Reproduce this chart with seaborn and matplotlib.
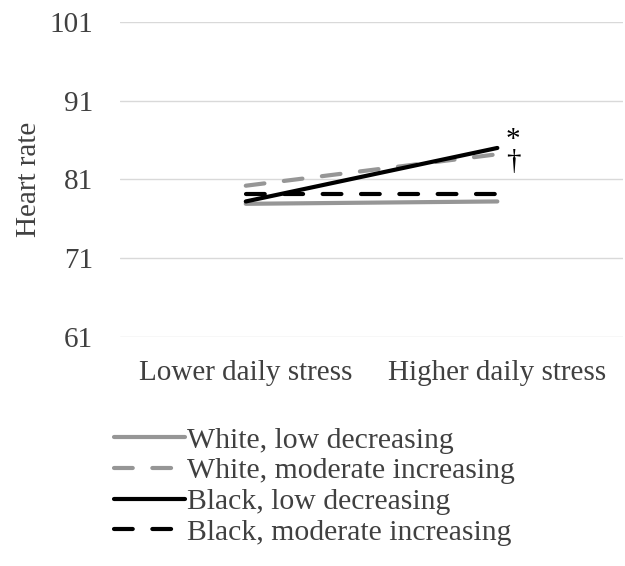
import matplotlib
matplotlib.use("Agg")
import matplotlib.pyplot as plt
import seaborn as sns
import pandas as pd

categories = ["Lower daily stress", "Higher daily stress"]
series_names = ["White, low decreasing", "White, moderate increasing",
                "Black, low decreasing", "Black, moderate increasing"]
white_low_dec = [77.9, 78.2]
white_mod_inc = [80.2, 84.2]
black_low_dec = [78.2, 85.0]
black_mod_inc = [79.1, 79.1]
y_ticks = [61, 71, 81, 91, 101]
annot_marks = ["*", "\u2020"]

sns.set_theme(style="white")
plt.rcParams['font.family'] = ['Liberation Serif', 'DejaVu Serif']
text_color = "#404040"
fs = 21

fig = plt.figure(figsize=(6.25, 5.66), dpi=100)
ax = fig.add_axes([0.192, 0.405, 0.805, 0.556])

values = [white_low_dec, white_mod_inc, black_low_dec, black_mod_inc]
colors = ["#969696", "#969696", "#000000", "#000000"]
styles = ["-", (0, (4.5, 4.7)), "-", (0, (4.5, 4.7))]

for name, vals, c, ls in zip(series_names, values, colors, styles):
    df = pd.DataFrame({"x": [0, 1], "y": vals})
    sns.lineplot(data=df, x="x", y="y", ax=ax, color=c, linewidth=3.0,
                 label=name, linestyle=ls, dash_capstyle="round",
                 solid_capstyle="round")

ax.set_xlim(-0.5, 1.5)
ax.set_ylim(61, 101)
ax.set_yticks(y_ticks)
ax.set_xticks([0, 1])
ax.set_xticklabels(categories)
ax.grid(axis="y", color="#d9d9d9", linewidth=1)
ax.set_axisbelow(True)
for s in ax.spines.values():
    s.set_visible(False)
ax.tick_params(axis="both", length=0, labelsize=fs, colors=text_color)
ax.tick_params(axis="x", pad=17)
ax.tick_params(axis="y", pad=19.5)
ax.set_xlabel("")
ax.set_ylabel("Heart rate", fontsize=fs, color=text_color, labelpad=5)

ax.text(1.063, 84.6, "\n".join(annot_marks), fontsize=21, color="#000000",
        ha="center", va="center", linespacing=0.78)

ax.get_legend().remove()
handles, labels = ax.get_legend_handles_labels()
leg = fig.legend(handles, labels, loc="upper left", bbox_to_anchor=(0.182, 0.246),
                 frameon=False, fontsize=21.4, handlelength=2.4, handletextpad=0.08,
                 labelspacing=0.13, borderpad=0, borderaxespad=0)
for t in leg.get_texts():
    t.set_color(text_color)

fig.savefig("out.png", dpi=100, facecolor="white")
